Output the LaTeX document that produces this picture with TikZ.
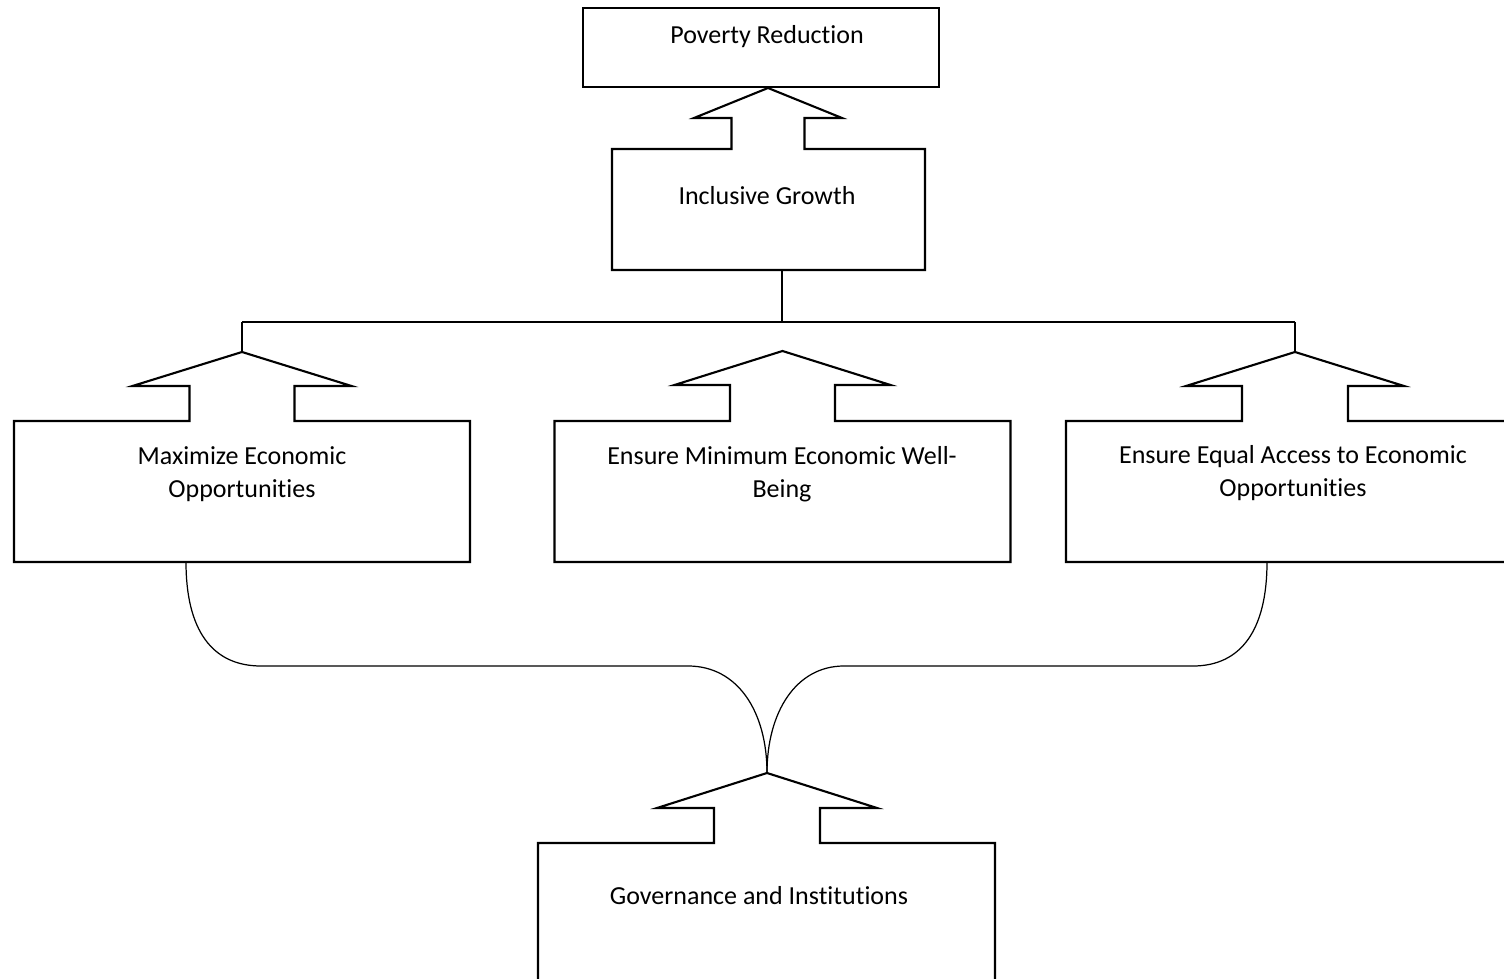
\documentclass[tikz,border=0pt]{standalone}
\usepackage{fontspec}
\setmainfont{Carlito}[Ligatures=NoCommon]
\usepackage{tikz}
\usetikzlibrary{positioning}

\begin{document}
\begin{tikzpicture}[x=0.02cm, y=-0.02cm,
    boxline/.style={draw=black, line width=1.2pt, line join=miter},
    joinline/.style={draw=black, line width=1.2pt},
    bendline/.style={draw=black, line width=0.7pt},
    lbl/.style={font=\fontsize{14.8}{18.8}\selectfont, align=center, inner sep=0pt}]

    % frame
    \useasboundingbox (0,0) rectangle (1504,979);
    \clip (0,0) rectangle (1504,979);

    % Top box
    \draw[boxline] (583,8) rectangle (939,87);
    \node[lbl] (pov) at (767,37) {Poverty Reduction};

    % Boxes with block arrows on top
    % cx/ax/tip/wing/top/bottom/half box/half wing/half shaft
    \foreach \cx/\ax/\ty/\wy/\by/\bb/\bw/\wh/\sh in {
        768.5/768/88/118/149/270/156.5/74/36.5,
        242/242/352/386/421/562/228/109.5/52.5,
        782.5/782.5/351/385/421/562/228/108/52.5,
        1294/1295/352/386/421/562/228/109/53,
        766.5/767/773/808/843/1010/228.5/110/53} {
        \draw[boxline] (\cx-\bw,\by) -- (\ax-\sh,\by) -- (\ax-\sh,\wy) -- (\ax-\wh,\wy)
            -- (\ax,\ty) -- (\ax+\wh,\wy) -- (\ax+\sh,\wy) -- (\ax+\sh,\by)
            -- (\cx+\bw,\by) -- (\cx+\bw,\bb) -- (\cx-\bw,\bb) -- cycle;
    }

    % Labels
    \node[lbl] (inc) at (767,196) {Inclusive Growth};
    \node[lbl] (maxopp) at (242,474) {Maximize Economic\\Opportunities};
    \node[lbl] (minwb) at (782,474) {Ensure Minimum Economic Well-\\Being};
    \node[lbl] (eqacc) at (1293,473) {Ensure Equal Access to Economic\\Opportunities};
    \node[lbl] (gov) at (759,896) {Governance and Institutions};

    % Arrow tips and line ends
    \coordinate (inclow) at (782,270);
    \coordinate (split) at (782,322);
    \coordinate (lefttip) at (242,352);
    \coordinate (righttip) at (1295,352);
    \coordinate (leftbar) at (242,322);
    \coordinate (rightbar) at (1295,322);
    \coordinate (maxlow) at (186,562);
    \coordinate (eqlow) at (1267,562);
    \coordinate (govtip) at (767,773);

    % Tree from Inclusive Growth
    \draw[joinline] (inclow) -- (split);
    \draw[joinline] (leftbar) -- (rightbar);
    \draw[joinline] (leftbar) -- (lefttip);
    \draw[joinline] (rightbar) -- (righttip);

    % Braces into Governance
    \draw[bendline] (maxlow) .. controls (186,630) and (212,666) .. (261,666)
        -- (688,666) .. controls (738,666) and (767,712) .. (govtip);
    \draw[bendline] (eqlow) .. controls (1267,630) and (1241,666) .. (1193,666)
        -- (844,666) .. controls (796,666) and (767,712) .. (govtip);
\end{tikzpicture}
\end{document}
